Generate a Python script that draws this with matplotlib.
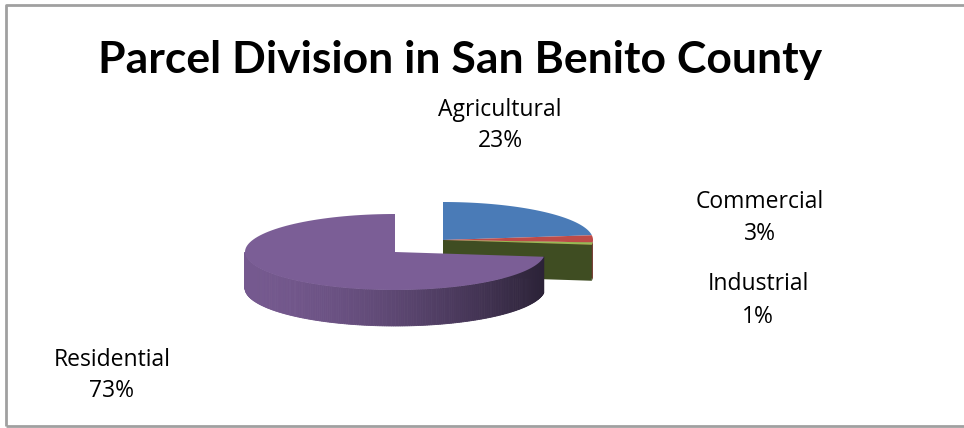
import numpy as np
import matplotlib
matplotlib.use("Agg")
import matplotlib.pyplot as plt
from matplotlib.patches import Polygon
from matplotlib.colors import to_rgb

categories = ['Agricultural', 'Commercial', 'Industrial', 'Residential']
values = [23, 3, 1, 73]
title = 'Parcel Division in San Benito County'

top_colors = ['#4A7BB7', '#BE4B48', '#98B954', '#7B5E96']
side_colors = ['#2F4F78', '#7E302E', '#3F4D22', '#7B5E96']

W, H = 964, 428
fig = plt.figure(figsize=(W / 100, H / 100), dpi=100)
ax = fig.add_axes([0, 0, 1, 1])
ax.set_xlim(0, W)
ax.set_ylim(H, 0)
ax.axis('off')

# frame (left, top, bottom visible)
ax.plot([6, 6, W + 5], [426, 5, 5], color='#A0A0A0', lw=2, solid_capstyle='butt')
ax.plot([6, W + 5], [426, 426], color='#A0A0A0', lw=2, solid_capstyle='butt')

rx, ry, depth = 150.0, 38.0, 36.0
center = np.array([443.0, 240.0])
explode_offset = {3: np.array([-48.0, 12.0])}

total = float(sum(values))
bounds = np.concatenate([[0], np.cumsum(values)]) / total * 360.0


def pt(theta_deg, c, dz=0.0):
    t = np.radians(theta_deg)
    return np.array([c[0] + rx * np.sin(t), c[1] - ry * np.cos(t) + dz])


def arc(a0, a1, c, dz=0.0, n=120):
    ts = np.linspace(a0, a1, n)
    return np.array([pt(t, c, dz) for t in ts])


def draw_slice(i):
    a0, a1 = bounds[i], bounds[i + 1]
    c = center + explode_offset.get(i, np.zeros(2))
    # radial face at end edge if it faces the viewer
    if 90 < a1 < 180 and i < 3:
        rim_top = pt(a1, c)
        quad = [c, rim_top, rim_top + [0, depth], c + [0, depth]]
        ax.add_patch(Polygon(quad, closed=True, facecolor=side_colors[i],
                             edgecolor='none', zorder=2 + i * 0.01))
    # outer wall, visible between 90 and 270 deg
    w0, w1 = max(a0, 90), min(a1, 270)
    if w1 > w0:
        if i == 3:
            light = np.array(to_rgb('#75598F'))
            dark = np.array(to_rgb('#2B2237'))
            ts = np.linspace(w0, w1, 200)
            xs_all = [pt(t, c)[0] for t in ts]
            xmin, xmax = min(xs_all), max(xs_all)
            for k in range(len(ts) - 1):
                p0, p1 = pt(ts[k], c), pt(ts[k + 1], c)
                xm = 0.5 * (p0[0] + p1[0])
                f = ((xm - xmin) / (xmax - xmin)) ** 1.6
                col = light * (1 - f) + dark * f
                quad = [p0, p1, p1 + [0, depth], p0 + [0, depth]]
                ax.add_patch(Polygon(quad, closed=True, facecolor=col, edgecolor=col,
                                     lw=0.6, zorder=3))
        else:
            top = arc(w0, w1, c)
            bot = arc(w1, w0, c, depth)
            ax.add_patch(Polygon(np.vstack([top, bot]), closed=True,
                                 facecolor=side_colors[i], edgecolor='none', zorder=2))
    # top face
    poly = np.vstack([[c], arc(a0, a1, c)])
    ax.add_patch(Polygon(poly, closed=True, facecolor=top_colors[i], edgecolor='none',
                         zorder=4 if i == 3 else 2.5))


for i in range(len(values)):
    draw_slice(i)

ax.text(460, 60, title, ha='center', va='center', fontsize=32, fontweight='bold',
        family=['Lato', 'DejaVu Sans'], color='black')

# label anchor (center x, first line center y, second line center y)
label_pos = [(500, 110, 141), (760, 202, 234), (758, 284, 317), (112, 360, 391)]
for (x, y1, y2), name, v in zip(label_pos, categories, values):
    kw = dict(ha='center', va='center', fontsize=16.5, family=['Open Sans', 'DejaVu Sans'],
              color='black')
    ax.text(x, y1, name, **kw)
    ax.text(x, y2, f'{round(v / total * 100):d}%', **kw)

fig.savefig('out.png', dpi=100)
